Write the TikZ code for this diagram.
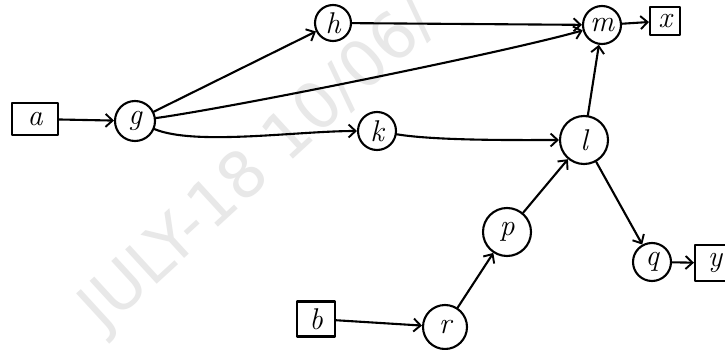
\documentclass[tikz,border=0pt]{standalone}
\usepackage{fontspec}
\newfontfamily\markfont{DejaVu Sans}
\usetikzlibrary{arrows.meta}
\begin{document}
\begin{tikzpicture}[x=1pt,y=-1pt,
  ink/.style={line width=2.1pt,line cap=round,line join=round},
  label font/.style={font=\itshape\fontsize{30}{30}\selectfont},
  state/.style={ink,draw,circle,inner sep=0pt,label font},
  io/.style={ink,draw,rectangle,inner sep=0pt,label font},
  edge/.style={ink,-{Straight Barb[length=7pt,width=13pt,line width=1.9pt]}},
  wm/.style={text=black!9,font=\markfont\fontsize{64}{64}\selectfont,inner sep=0pt}]
\useasboundingbox (0,0) rectangle (725,350);
\fill[white] (0,0) rectangle (725,350);

% date stamp across the sheet
\node[wm,rotate=42.5] (stamp) at (260,166) {JULY-18 10/06/};

% inputs and outputs
\node[io,minimum width=46pt,minimum height=32pt] (a) at (35,119) {a};
\node[io,minimum width=38pt,minimum height=35pt] (b) at (316,319) {b};
\node[io,minimum width=30pt,minimum height=28pt] (x) at (665,21) {x};
\node[io,minimum width=40pt,minimum height=36pt] (y) at (715,263) {y};

% internal nodes
\node[state,minimum size=40pt] (g) at (135,121) {g};
\node[state,minimum size=36pt] (h) at (333,23) {h};
\node[state,minimum size=38pt] (m) at (602,25) {m};
\node[state,minimum size=38pt] (k) at (377,131) {k};
\node[state,minimum size=48pt] (l) at (584,140) {l};
\node[state,minimum size=48pt] (p) at (507,232) {p};
\node[state,minimum size=38pt] (q) at (652,262) {q};
\node[state,minimum size=44pt] (r) at (445,327) {r};

% connections
\draw[edge] (a) -- (g);
\draw[edge] (g) -- (h);
\draw[edge] (g) .. controls +(100,-14) and +(-100,28) .. (m);
\draw[edge] (g) .. controls +(60,25) and +(-80,0) .. (k);
\draw[edge] (h) -- (m);
\draw[edge] (k) .. controls +(60,10) and +(-60,0) .. (l);
\draw[edge] (l) -- (m);
\draw[edge] (l) -- (q);
\draw[edge] (m) -- (x);
\draw[edge] (q) -- (y);
\draw[edge] (b) -- (r);
\draw[edge] (r) -- (p);
\draw[edge] (p) -- (l);
\end{tikzpicture}
\end{document}
